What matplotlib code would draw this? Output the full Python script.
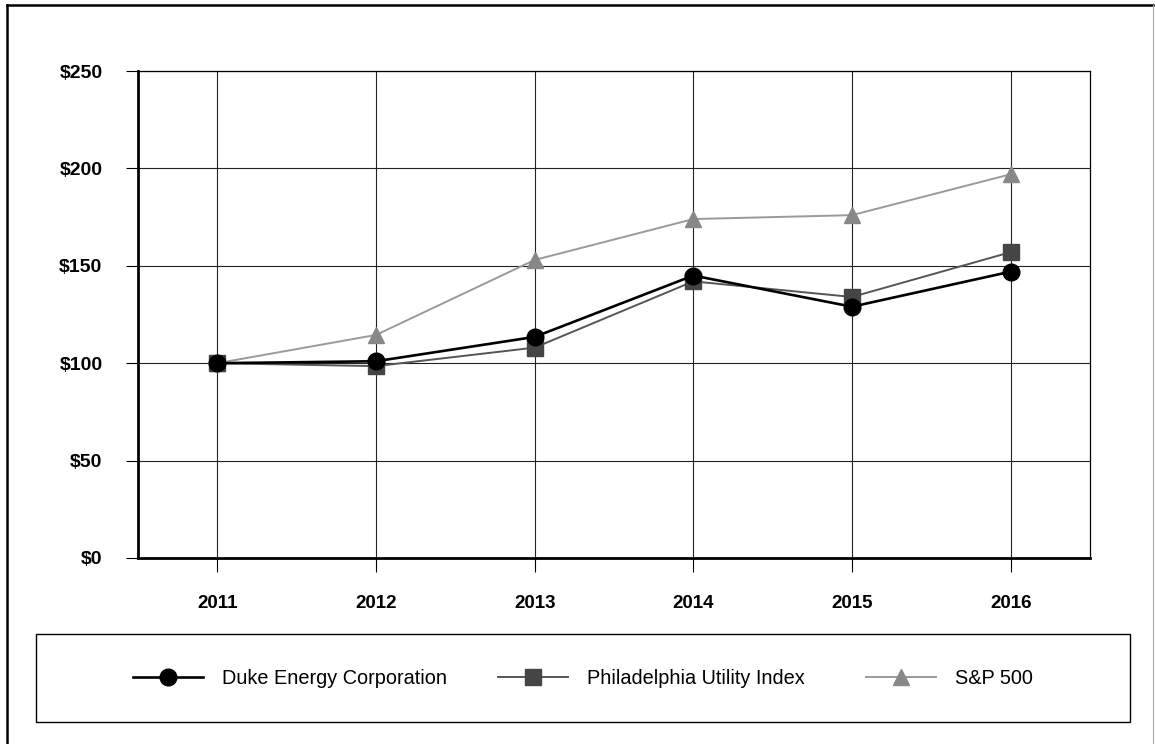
import matplotlib.pyplot as plt
from matplotlib.lines import Line2D
from matplotlib.patches import Rectangle

plt.rcParams['font.family'] = ['Liberation Sans', 'DejaVu Sans']

# data
years = ["2011", "2012", "2013", "2014", "2015", "2016"]
duke = [100, 101, 113.5, 145, 129, 147]
philly = [100, 98.5, 108, 142, 134, 157]
sp500 = [100, 114.5, 153, 174, 176, 197]
yticks = [0, 50, 100, 150, 200, 250]
ylabels = ["$0", "$50", "$100", "$150", "$200", "$250"]

fig = plt.figure(figsize=(11.55, 7.44), dpi=100)
ax = fig.add_axes([138 / 1155, 1 - 558 / 744, (1090 - 138) / 1155, (558 - 71) / 744])

x = range(len(years))
l_duke, = ax.plot(x, duke, color="black", lw=1.9, marker="o", ms=12,
                  label="Duke Energy Corporation", zorder=5)
l_philly, = ax.plot(x, philly, color="#555555", lw=1.4, marker="s", ms=11,
                    mfc="#454545", mec="#454545", label="Philadelphia Utility Index", zorder=4)
l_sp, = ax.plot(x, sp500, color="#9a9a9a", lw=1.4, marker="^", ms=11,
                mfc="#888888", mec="#888888", label="S&P 500", zorder=3)

ax.set_xlim(-0.5, len(years) - 0.5)
ax.set_ylim(0, 250)
ax.set_xticks(list(x))
ax.set_xticklabels(years, fontsize=13.5, fontweight="bold")
ax.set_yticks(yticks)
ax.set_yticklabels(ylabels, fontsize=14, fontweight="bold")
ax.tick_params(axis="x", length=10, width=0.8, direction="out", pad=17)
ax.tick_params(axis="y", length=8.6, width=0.8, direction="out", pad=17)
ax.grid(True, color="#222222", lw=0.8)
ax.set_axisbelow(True)
for side in ["left", "bottom"]:
    ax.spines[side].set_linewidth(2)
for side in ["top", "right"]:
    ax.spines[side].set_linewidth(0.9)

# legend box
fig.add_artist(Rectangle((36 / 1155, 1 - 722 / 744), (1130 - 36) / 1155, 88 / 744,
                         transform=fig.transFigure, fill=False, ec="black", lw=1.0))
for handle, xpos in [(l_duke, 133), (l_philly, 498), (l_sp, 866)]:
    fig.legend(handles=[handle], loc="center left",
               bbox_to_anchor=(xpos / 1155, 1 - 678 / 744), frameon=False,
               fontsize=14.3, borderpad=0, borderaxespad=0,
               handlelength=3.5, handletextpad=1.0)

# outer frame
fig.add_artist(Line2D([7 / 1155, 7 / 1155], [0, 1 - 5 / 744], transform=fig.transFigure,
                      color="black", lw=1.8))
fig.add_artist(Line2D([7 / 1155, 1153 / 1155], [1 - 5 / 744, 1 - 5 / 744],
                      transform=fig.transFigure, color="black", lw=1.8))
fig.add_artist(Line2D([1153 / 1155, 1153 / 1155], [0, 1 - 5 / 744], transform=fig.transFigure,
                      color="#aaaaaa", lw=0.8))

fig.savefig("out.png", dpi=100)
